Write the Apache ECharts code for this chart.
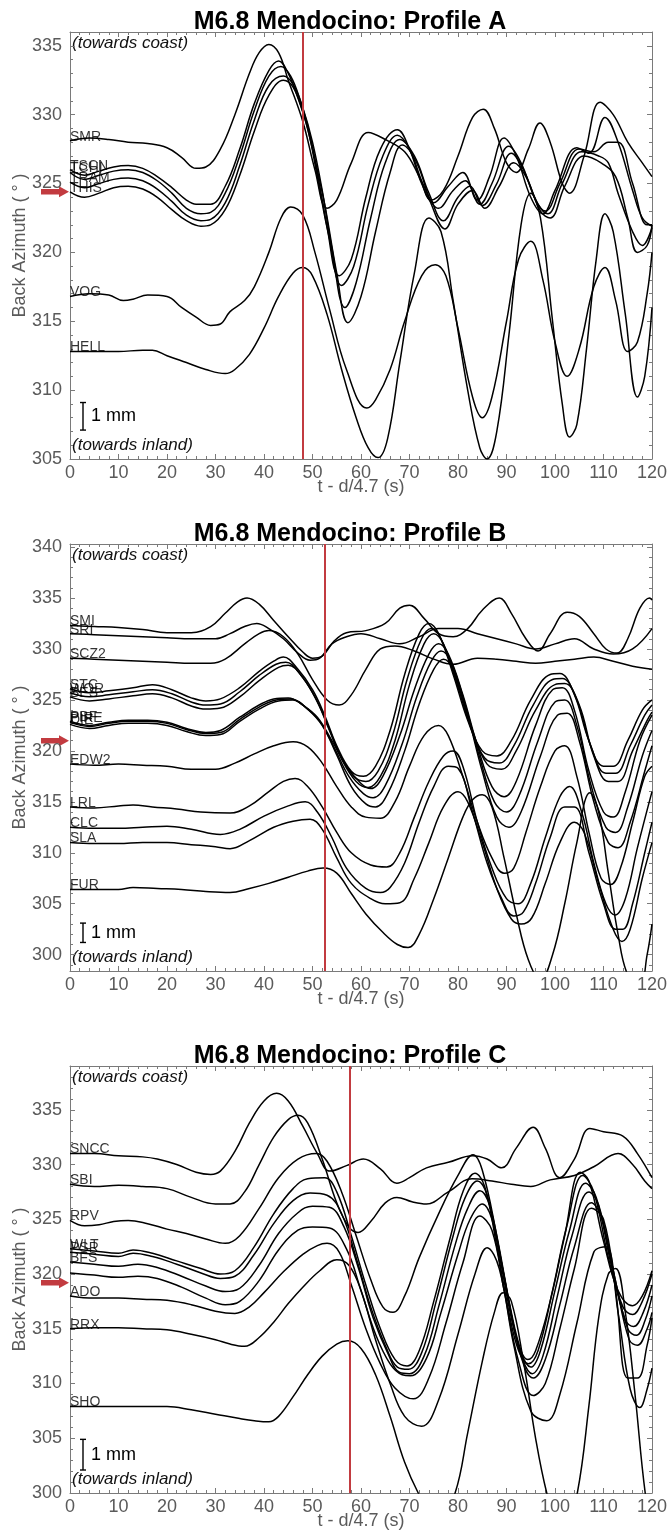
<!DOCTYPE html>
<html>
<head>
<meta charset="utf-8">
<script src="https://cdn.jsdelivr.net/npm/echarts@6/dist/echarts.min.js"></script>
<style>
  html, body { margin: 0; padding: 0; background: #fff; }
  #chart { width: 671px; height: 1539px; }
</style>
</head>
<body>
<div id="chart"></div>
<script>
// ---- Profile A : [t, back azimuth] ----
const smrA = [[0,328.1],[4,328.3],[8,328.2],[12,328.0],[16,327.9],[20,327.6],[23,326.9],[26,326.1],[28,326.2],[31,327.5],[34,330],[37,333],[39,334.5],[41,335.1],[43,334.5],[45,332.5],[48,329.5],[50.5,326],[53,323.2],[55,323.8],[58,326.5],[61.5,328.7],[65,328.2],[69,327.3],[72,325.5],[74.5,323.8],[77,324.5],[80,327],[83,329.8],[85.2,330.4],[87.5,329],[90,326.5],[92,325.8],[94.5,327.5],[96.9,329.4],[99,328],[101.5,325],[103,324.3],[106,327],[109.3,330.9],[112,330],[115,328],[118,326.5],[120,325.5]];
const tscnA = [[0,326.0],[3,325.6],[6,325.9],[9,326.2],[12,326.3],[15,326.1],[18,325.5],[21,324.7],[24,323.8],[26,323.5],[29,323.5],[32,324.8],[35,327.5],[38,330.8],[41,333.2],[43,333.9],[45,333],[47,331.2],[49,329],[51,325.5],[53,321.8],[55.5,318.3],[58,319.5],[61,324],[64,327.5],[67.5,328.9],[70,327.5],[72.5,325],[75,323.6],[78,324.8],[81,325.8],[84,323.8],[86.5,325.5],[89.5,328.3],[92,327],[95,324],[97.5,322.8],[100,324.5],[104.5,327.6],[107,327.2],[110.3,329.8],[113,328],[116,324.5],[118,322.5],[120,321.9]];
const tchiA = [[0,325.8],[3,325.3],[6,325.6],[9,325.9],[12,326.0],[15,325.8],[18,325.2],[21,324.3],[24,323.2],[27,322.8],[29,322.9],[32,324.3],[35,327],[38,330.3],[41,332.8],[43.5,333.5],[45.5,332.8],[47.5,331],[49.5,328.5],[51.5,324.8],[53.5,321],[56,317.6],[58.5,319],[61.5,323.5],[64.5,327],[67.5,328.5],[70,327.5],[73,324.8],[76,323.2],[79,324.5],[81.5,325.2],[84.5,323.5],[87,325],[90.5,327.7],[93,326.5],[96,323.8],[98,323],[101,325],[105,327.5],[108,327.3],[111,328.0],[113,328],[116,325],[119,322],[120,322]];
const tramA = [[0,325.1],[3,324.7],[6,325.0],[9,325.3],[12,325.4],[15,325.2],[18,324.6],[21,323.7],[24,322.7],[27,322.3],[29,322.4],[32,323.6],[35,326.3],[38,329.6],[41,332.1],[44,332.8],[46,332.2],[48,330.5],[50,328],[52,324.5],[54,320.3],[56.7,316.0],[59,317.8],[62,322.5],[65,326.5],[68,328.2],[71,327],[74,324.3],[77,322.3],[80,324],[82.5,324.8],[85,323.4],[88,325],[91,327.2],[93.5,326],[96.5,323.5],[98.5,322.8],[101.5,325],[105.5,327.3],[109,327],[111,326.5],[113,324.3],[116,321.5],[118,320.5],[120,321.8]];
const thisA = [[0,324.4],[3,324.0],[6,324.3],[9,324.7],[12,324.8],[15,324.6],[18,324.0],[21,323.1],[24,322.3],[27,321.9],[29,322.0],[32,323.1],[35,325.6],[38,328.8],[41,331.4],[44,332.5],[46,332],[48,330.2],[50,327.5],[52.5,323.5],[55,318.5],[57.3,314.9],[60,316.8],[63,321.5],[66,325.8],[68.5,327.8],[71.5,326.5],[74.5,323.5],[77.3,321.7],[80,323.5],[83,324.5],[85.5,323.2],[88.5,324.8],[91.5,326.5],[94,325.5],[97,323],[99,322.5],[102,324.8],[106,327],[109.5,326.5],[112.5,325.5],[115,322.5],[117,320],[119,320.5],[120,322]];
const vogA = [[0,316.8],[4,317.0],[8,316.9],[11,316.5],[13,316.6],[16,316.9],[20,316.8],[23,316.0],[26,315.3],[29,314.7],[31,314.8],[33,315.7],[36,316.5],[38,317.5],[41,320],[43.5,322.5],[45.5,323.3],[48,322.7],[50.5,320],[53.5,315.9],[57,311.5],[61.2,308.7],[63,309.3],[66,311.5],[69,315],[72.5,318.3],[75.3,319.1],[77.5,318.3],[80,314.5],[83,309.5],[85,308],[87,309.5],[90,315],[92.5,319.5],[95,320.8],[97.5,318],[100,313.5],[102.5,311],[105,313],[108,317.5],[110.3,318.9],[112.5,316.5],[115,312.8],[117,313.5],[119,317],[120,320]];
const hellA = [[0,312.8],[5,312.8],[10,312.8],[15,312.9],[17,312.9],[20,312.5],[24,312],[28,311.5],[32,311.2],[34,311.5],[37,312.6],[40,314.5],[43,316.8],[46,318.5],[48,318.9],[50,318.3],[53,315.5],[56,311.5],[59,308],[61.5,305.8],[63.5,305.1],[65.5,306.5],[68,312],[71,318.5],[74,322.5],[76.5,321.5],[79,316.5],[82,310],[84.5,305.8],[86,305],[88,307],[90.5,314],[93,322],[95,324.3],[97,322.5],[99.5,315],[101.5,309],[103,306.6],[104.5,307.5],[106.5,313],[108.5,319.5],[110.3,322.8],[112,321.5],[114.5,315.5],[117,309.5],[118.5,311],[120,316]];

// ---- Profile B ----
const smiB = [[0,332.3],[5,332.2],[10,332.1],[15,331.9],[20,331.6],[25,331.6],[29,332.2],[32,333.5],[34.5,334.6],[36.5,335.0],[39,334.4],[42,332.8],[45,331.2],[48,329.7],[50,329.1],[52,329.3],[54.5,330.8],[57,331.6],[61,331.8],[65,332.5],[68,334.0],[70,334.3],[73,333],[76,331.5],[79,331.2],[82,332],[85,333.8],[88.5,335.0],[91,333.5],[94,331],[96.5,329.8],[99,331.5],[102.5,333.6],[105,333.2],[108,331.5],[110.5,330],[112.8,329.6],[115,331],[117.5,334],[119.5,335.0],[120,334.8]];
const sriB = [[0,331.5],[5,331.4],[10,331.3],[15,331.2],[20,331.1],[25,331.0],[30,331.0],[33,331.5],[36,332.2],[38.5,332.5],[41,332],[44,331],[47,329.6],[49.5,328.9],[51.5,329.1],[54,330.5],[57,331.2],[60,331.5],[64,331],[68,330.5],[72,331.2],[76,332],[80,332],[84,331.5],[88,331],[92,330.5],[96,330],[100,330.5],[104,331],[108,330],[112,329.5],[116,330],[120,332]];
const scz2B = [[0,329.1],[5,329.0],[10,328.9],[15,328.8],[20,328.7],[25,328.6],[29,328.6],[32,329],[36,330.5],[39,331.5],[41,331.8],[44,331.2],[47,329.5],[50,327],[53,325],[55.5,324.5],[58,325.5],[61,328],[64,330],[67,330.3],[71,329.8],[75,329],[79,328.5],[84,329.1],[88,329],[92,328.8],[96,328.6],[100,328.8],[104,329],[108,329.2],[112,328.8],[116,328.3],[120,328]];
const stcB = [[0,326.1],[4,325.7],[8,325.9],[13,326.2],[17,326.5],[21,326.0],[25,325.2],[28,324.9],[31,325.1],[35,326.2],[39,327.8],[42,328.8],[44,329.2],[47,328],[50,326],[52.5,323.5],[55,320.5],[58,318],[60.5,317.5],[63,318.5],[66,322],[69,327.5],[72,331.5],[74,332.5],[76,331.5],[79,327.5],[82,323],[85,320],[88,319.5],[91,321],[95,325],[99,327.5],[101,327.6],[104,325.5],[107,321],[110,318.5],[112,318.5],[115,321],[118,324],[120,325]];
const worB = [[0,325.7],[4,325.3],[8,325.5],[13,325.8],[17,326.0],[21,325.6],[25,324.8],[28,324.5],[31,324.6],[35,325.8],[39,327.4],[42.5,328.5],[44.5,328.7],[47.5,327.5],[50.5,325.3],[53,322.7],[55.5,319.8],[58.5,317.5],[61,317.0],[63.5,318],[66.5,321.5],[69.5,327],[72.5,331],[74.5,332],[76.5,331],[79.5,327],[82.5,322.5],[85.5,319.3],[88.5,318.8],[91.5,320.5],[95.5,324.5],[99.5,327],[101.5,327.1],[104.5,325],[107.5,320.3],[110.5,317.8],[112.5,317.8],[115.5,320.5],[118.5,323.5],[120,324.5]];
const besB = [[0,325.3],[4,324.9],[8,325.1],[13,325.4],[17,325.6],[21,325.2],[25,324.4],[28,324.1],[31,324.2],[35,325.3],[39,326.9],[43,328.2],[45,328.4],[48,327.2],[51,324.8],[53.5,322],[56,319.2],[59,317],[61.5,316.4],[64,317.5],[67,321],[70,326.5],[73,330.5],[75,331.5],[77,330.5],[80,326.5],[83,322],[86,318.7],[89,318.2],[92,320],[96,324],[100,326.5],[102,326.6],[105,324.5],[108,319.5],[111,317],[113,317],[116,320],[119,323],[120,323.8]];
const pbfB = [[0,322.9],[4,322.5],[8,322.8],[12,323.0],[16,323.0],[20,322.8],[24,322.2],[28,321.8],[31,322.0],[35,323.3],[39,324.5],[42,325.1],[45,325.2],[48,324.5],[51,323.3],[54,321],[57,318.5],[60,316.8],[62,316.3],[64.5,317.5],[68,321.5],[71,326],[74,329.5],[76,330.5],[78,329.5],[81,325.5],[84,320.5],[87,316.5],[89.5,315.5],[92,317],[96,322.5],[99.5,326],[101.5,326.2],[104,324],[107,318],[110,314],[112,313.5],[114.5,316],[117.5,321],[120,323.5]];
const pireB = [[0,322.8],[4,322.4],[8,322.7],[12,322.9],[16,322.9],[20,322.7],[24,322.1],[28,321.7],[31,321.8],[35,323.1],[39,324.3],[42.5,325.0],[45.5,325.1],[48.5,324.3],[51.5,322.9],[54.5,320.3],[57.5,317.5],[60.5,315.8],[62.5,315.4],[65,316.6],[68.5,320.7],[71.5,325.3],[74.5,328.8],[76.5,329.8],[78.5,328.8],[81.5,324.5],[84.5,319.3],[87.5,315],[90,314],[92.5,315.5],[96.5,321],[100,324.8],[102,325],[104.5,322.5],[107.5,316.5],[110.5,312.5],[112.5,312],[115,314.5],[118,319.5],[120,322]];
const dieB = [[0,322.6],[4,322.2],[8,322.5],[12,322.7],[16,322.7],[20,322.5],[24,321.9],[28,321.5],[31,321.6],[35,322.9],[39,324.1],[43,324.9],[46,325.0],[49,324.1],[52,322.5],[55,319.6],[58,316.5],[61,314.8],[63,314.5],[65.5,315.8],[69,320],[72,324.6],[75,328],[77,329],[79,328],[82,323.5],[85,318],[88,313.5],[90.5,312.5],[93,314],[97,319.5],[100.5,323.5],[102.5,323.7],[105,321],[108,315],[111,311],[113,310.5],[115.5,313],[118.5,318],[120,320.5]];
const edw2B = [[0,318.7],[5,318.6],[10,318.7],[15,318.6],[20,318.5],[25,318.2],[30,318.2],[34,318.8],[38,319.7],[42,320.5],[46,320.9],[49,320.4],[52,318.8],[55,316.5],[58,314.5],[61,313.5],[64,313.4],[67,315],[70,318.5],[73,321.5],[76,322.5],[78,321.5],[81,317.5],[84,313],[87,309.5],[89.5,308],[91.5,308.5],[94,312],[97,316.5],[100,320],[102,320.5],[104.5,317.5],[107,312],[109.5,307.5],[111.5,306.9],[113.5,308.5],[116,313],[118.5,317.5],[120,318.5]];
const lrlB = [[0,314.5],[5,314.4],[10,314.6],[13,314.7],[17,314.5],[22,314.3],[27,314.0],[33,313.9],[37,314.6],[41,316],[44,317],[46.4,317.3],[49,316.5],[52,314.5],[55,312],[58,310],[62,308.8],[65.3,308.6],[68,310],[71,313.5],[74,317],[77,319.5],[79,320],[81,318.5],[84,313],[87,308.5],[90,305.5],[92.4,305],[95,307],[98,311.5],[101,315.5],[103,316.5],[105.5,314],[108,309],[110.5,305],[112.4,303.9],[114.5,305.5],[117,310.5],[120,316]];
const clcB = [[0,312.5],[5,312.4],[10,312.4],[15,312.5],[20,312.6],[25,312.3],[31,311.8],[35,312.3],[40,313.6],[45,314.6],[48.5,315.0],[51,314],[54,311.5],[57,308.5],[61,306.5],[64,306.1],[66,306.6],[69,309],[72,313],[75,316.5],[78,318.5],[80,318.3],[83,314],[86,309],[89,305.5],[91.5,303.8],[93.5,304.2],[96,307],[99,311.5],[102,314.5],[104,314.5],[107,310],[110,305],[112.5,302.5],[114,302.5],[116,305],[118.5,310],[120,313]];
const slaB = [[0,311.0],[5,310.9],[10,310.9],[15,311.0],[20,311.0],[25,310.8],[30,310.6],[33,310.4],[37,311.2],[42,312.5],[46,313.1],[49.5,313.3],[52,312.3],[55,309.5],[58,307],[62,305.5],[65,305],[68,305.1],[71,307.5],[74,311],[77,314.5],[80,316],[82,315],[85,311],[88,306.5],[91,303.5],[93,303],[95.2,303.6],[98,307],[101,311],[104,313],[106,312],[109,307],[112,302.5],[113.8,301.3],[115.5,302.5],[118,307.5],[120,311]];
const furB = [[0,306.4],[5,306.4],[10,306.4],[13,306.6],[18,306.5],[23,306.4],[28,306.2],[33,306.1],[37,306.5],[41,307],[45,307.6],[49,308.2],[52.2,308.5],[55,308],[58,306],[61,304],[64.5,302.2],[67.5,301],[69.7,300.7],[72,302],[75,305.5],[78,309.5],[81,313.5],[83,315.2],[85,315.7],[87,314.5],[89.5,309.5],[92,304],[94.5,299.5],[97,297.5],[99.5,300],[102,305],[104.5,311],[107.2,315.9],[109,314],[111,308],[113,302],[115,298],[117.5,297],[119,300],[120,303]];

// ---- Profile C ----
const snccC = [[0,331.0],[5,331.0],[10,330.8],[15,330.7],[18,330.5],[22,330.0],[26,329.3],[29,329.1],[31,329.4],[34,331.2],[37,333.8],[40,335.8],[42.6,336.5],[45,335.8],[48,333.5],[51,331],[53.6,329.4],[57,329.9],[60.5,330.5],[64,329.6],[67.4,328.3],[70,328.8],[73.5,329.7],[78,330.2],[83,330.8],[86,330.5],[89,329.7],[92,331.5],[95.5,333.4],[98,331.5],[101,328.8],[104,330.5],[107.2,333.3],[110,333],[114,332.6],[117,331],[120,328.8]];
const sbiC = [[0,328.2],[5,328.0],[10,328.1],[15,328.0],[20,327.8],[25,327.0],[30,326.4],[33,326.4],[36,327.5],[39,330],[42,332.5],[45,334.1],[47,334.5],[49,333.8],[52,330.5],[55,326.5],[57.5,324.3],[59.4,323.8],[62,324.8],[65,326.5],[67.4,327],[70.5,326.6],[73.5,326.4],[78,327.5],[82.9,328.7],[87,328.5],[91,328.2],[95,328],[99,328.6],[104,329],[108,329.8],[113,331],[116,330],[118.5,328.5],[120,327.8]];
const rpvC = [[0,324.9],[3,324.4],[6,324.5],[9,324.8],[12,324.9],[16,324.6],[20,324.1],[24,323.7],[28,323.2],[32,322.8],[35,323.5],[39,326],[43,328.8],[47,330.5],[50.8,331.0],[53,330.3],[56,327.5],[59,323.5],[62,319.5],[64.5,317],[66.6,316.5],[69,318],[72,321.5],[76,325.5],[80,329],[83.1,330.9],[85,329.5],[88,323.5],[91,316.5],[93,313],[94.4,312.2],[96,313],[99,317.5],[102,323.5],[105.2,329.3],[107,328.5],[110,323],[113,318.5],[116,317.1],[118,318],[120,320.3]];
const wltC = [[0,322.3],[5,322.1],[10,321.9],[13,322.2],[17,321.9],[22,321.2],[27,320.5],[31,320.0],[34,320.3],[38,322.5],[42,325.5],[46,327.8],[49,328.7],[52.5,328.8],[55,327.5],[58,323.5],[61,319],[64,315],[67,312.2],[69.5,311.6],[72,313],[75,317.5],[78.5,323.5],[81,327.5],[83.5,329.2],[85.5,328],[88,322.5],[90.5,316.5],[92.5,313],[94.5,311.8],[96.5,313],[99.5,318.5],[102.5,324.5],[105.7,329],[108,327.5],[111,321.5],[114,317],[116,316.3],[118,317.5],[120,320]];
const psrC = [[0,322.0],[5,321.8],[10,321.6],[13,321.9],[17,321.6],[22,320.9],[27,320.1],[31,319.6],[34,319.8],[38,321.8],[42,324.6],[46,326.7],[49.5,327.4],[53,327.2],[56,325.5],[59,321.5],[62,317],[65,313.5],[67.5,311.5],[69.8,311.3],[72.5,312.8],[75.5,317.5],[79,323.5],[81.5,327],[84,328.5],[86,327.2],[88.5,321.8],[91,316],[93,312.8],[95,311.5],[97,313],[100,318.5],[103,324],[106.3,328.3],[108.5,327],[111.5,321],[114.5,315.8],[116.2,315.2],[118.2,316.5],[120,319]];
const bfsC = [[0,321.1],[5,320.9],[10,320.7],[14,320.9],[18,320.6],[23,319.8],[28,318.9],[32,318.4],[35,318.7],[39,320.8],[43,323.7],[47,325.6],[50,326.2],[53.5,326.1],[56.5,324.3],[59.5,320.5],[62.5,316],[65.5,312.8],[68,311],[70,310.9],[73,312.5],[76,317],[79.5,322.8],[82,326],[84.5,327.6],[86.5,326.3],[89,321],[91.5,315.2],[93.5,312],[95.3,310.9],[97.5,312.5],[100.5,318],[103.5,323.5],[107,327.5],[109,326.3],[112,320.3],[115,315],[116.8,314.4],[118.6,315.8],[120,318]];
const x5C = [[0,320.1],[5,319.9],[10,319.7],[14,319.8],[18,319.6],[23,318.8],[28,317.8],[32,317.2],[35,317.5],[39,319.4],[43,322.2],[47,324.0],[50,324.3],[53.5,324.2],[57,322.3],[60,318.5],[63,314.5],[66,311.8],[68.5,310.8],[70.2,310.7],[73.5,312.3],[76.5,316.5],[80,321.8],[82.5,325],[85,326.4],[87,325],[89.5,319.8],[92,314.2],[94,311.2],[95.5,310.5],[98,312.2],[101,317.2],[104,322.5],[107.5,326.5],[109.5,325.3],[112.5,319.3],[115.3,314],[117,313.5],[119,315],[120,316.5]];
const adoC = [[0,318.0],[5,317.8],[10,317.8],[15,317.7],[20,317.6],[25,317.2],[30,316.6],[34,316.4],[37,317],[40,318.3],[44,320.2],[48,321.8],[51,322.6],[53,322.8],[55.5,322],[58,319],[61,315],[64,311.8],[67,309.6],[70.8,308.6],[74,310.5],[77.5,315.5],[81,321],[84.5,325.3],[87,324],[89.5,318.5],[92.5,312],[95.5,308.9],[98,310],[101,315],[104,320.5],[107.5,326],[110,325],[112.5,318.5],[115,310.5],[117,310.5],[119,313.5],[120,316]];
const rrxC = [[0,315.0],[5,315.1],[10,315.1],[15,315.0],[20,314.9],[25,314.5],[30,314.0],[33,313.6],[36,313.4],[39,314.2],[42,315.6],[45,317.3],[48,318.8],[51.5,320.3],[55,321.3],[57.5,320.8],[60,318.5],[63,314],[66,310],[69,307],[72.5,306.1],[76,308.5],[80,314.5],[83.5,320],[86,322.4],[88.5,320.5],[91.5,313.5],[95,307.5],[98.3,306.6],[101,309],[104.5,315.5],[108,322],[110.5,322.5],[113,316.5],[115.5,309.5],[117.5,307.8],[119,309.5],[120,311.4]];
const shoC = [[0,307.9],[5,307.9],[10,307.9],[15,307.9],[20,307.9],[25,307.6],[30,307.2],[35,306.8],[38,306.6],[41,306.5],[43,307],[46,308.8],[49,310.8],[52,312.5],[55,313.6],[57.3,313.9],[60,313.2],[63,310.8],[66,307],[69,302.8],[71.8,300],[74,298.5],[76.5,298],[79.4,300],[82,305.5],[85,312],[87.5,316.5],[89.3,318.3],[91,317.5],[93.5,312],[96,305],[98.3,300],[100.5,297],[102.5,297.5],[104.6,300],[107,308],[109,316],[111,320],[112.5,320.5],[114.5,316.5],[116.5,309],[118.6,300],[120,297]];

const panels = [
  {
    title: 'M6.8 Mendocino: Profile A', top: 32, yMin: 305, yMax: 336, redT: 48, arrowV: 324.4,
    barV: [307.1, 309.1],
    traces: [['SMR', smrA], ['TSCN', tscnA], ['TCHI', tchiA], ['TRAM', tramA], ['THIS', thisA], ['VOG', vogA], ['HELL', hellA]]
  },
  {
    title: 'M6.8 Mendocino: Profile B', top: 544, yMin: 298.4, yMax: 340.3, redT: 52.5, arrowV: 321.0,
    barV: [301.2, 303.1],
    traces: [['SMI', smiB], ['SRI', sriB], ['SCZ2', scz2B], ['STC', stcB], ['WOR', worB], ['BES', besB], ['PBF', pbfB], ['PIRE', pireB], ['DIE', dieB], ['EDW2', edw2B], ['LRL', lrlB], ['CLC', clcB], ['SLA', slaB], ['FUR', furB]]
  },
  {
    title: 'M6.8 Mendocino: Profile C', top: 1066, yMin: 300, yMax: 339, redT: 57.6, arrowV: 319.2,
    barV: [302.1, 304.9],
    traces: [['SNCC', snccC], ['SBI', sbiC], ['RPV', rpvC], ['WLT', wltC], ['PSR', psrC], ['BFS', bfsC], ['', x5C], ['ADO', adoC], ['RRX', rrxC], ['SHO', shoC]]
  }
];

const FONT = '"Liberation Sans", Helvetica, Arial, sans-serif';
const AX = '#7a7a7a';
const LBL = '#5a5a5a';
const RED = '#c23b40';
const GW = 582, GH = 427, GL = 70;

const option = {
  animation: false,
  backgroundColor: '#fff',
  textStyle: { fontFamily: FONT },
  title: [], grid: [], xAxis: [], yAxis: [], series: []
};

function range(a, b, s) { const r = []; for (let v = a; v <= b + 1e-9; v += s) r.push(+v.toFixed(3)); return r; }

panels.forEach((p, i) => {
  option.title.push({
    text: p.title, left: 345, top: p.top - 27, textAlign: 'center',
    textStyle: { fontFamily: FONT, fontSize: 25, fontWeight: 'bold', color: '#000' }
  });
  option.grid.push({ left: GL, top: p.top, width: GW, height: GH, show: false, containLabel: false, outerBoundsMode: 'none' });
  const xBase = {
    type: 'value', gridIndex: i, min: 0, max: 120, interval: 10,
    splitLine: { show: false },
    axisLine: { show: true, lineStyle: { color: AX, width: 1 } },
    axisTick: { show: true, inside: true, length: 5, lineStyle: { color: AX } },
    minorTick: { show: true, splitNumber: 5, length: 3, lineStyle: { color: AX } }
  };
  option.xAxis.push(Object.assign({}, xBase, {
    position: 'bottom',
    axisLabel: { color: LBL, fontSize: 18, margin: 5, fontFamily: FONT },
    name: 't - d/4.7 (s)', nameLocation: 'middle', nameGap: 19, nameMoveOverlap: false,
    nameTextStyle: { color: LBL, fontSize: 18, fontFamily: FONT }
  }));
  option.xAxis.push(Object.assign({}, xBase, { position: 'top', axisLabel: { show: false } }));

  const majors = range(Math.ceil(p.yMin / 5) * 5, p.yMax, 5);
  const minors = range(Math.ceil(p.yMin), p.yMax, 1);
  const yBase = {
    type: 'value', gridIndex: i, min: p.yMin, max: p.yMax,
    splitLine: { show: false },
    axisLine: { show: true, lineStyle: { color: AX, width: 1 } }
  };
  ['left', 'right'].forEach(pos => {
    option.yAxis.push(Object.assign({}, yBase, {
      position: pos,
      axisTick: { show: true, inside: true, length: 5, customValues: majors, lineStyle: { color: AX } },
      axisLabel: pos === 'left'
        ? { show: true, customValues: majors, color: LBL, fontSize: 18, margin: 8, fontFamily: FONT }
        : { show: false },
      name: pos === 'left' ? 'Back Azimuth ( ° )' : '',
      nameLocation: 'middle', nameGap: 41, nameMoveOverlap: false,
      nameTextStyle: { color: LBL, fontSize: 18, fontFamily: FONT }
    }));
    option.yAxis.push(Object.assign({}, yBase, {
      position: pos,
      axisLine: { show: false },
      axisTick: { show: true, inside: true, length: 3, customValues: minors, lineStyle: { color: AX } },
      axisLabel: { show: false }
    }));
  });

  p.traces.forEach(([name, data], k) => {
    const s = {
      type: 'line', name: name || ('trace' + k), xAxisIndex: 2 * i, yAxisIndex: 4 * i,
      data: data, showSymbol: false, symbol: 'none', smooth: 0.4,
      clip: true, silent: true,
      lineStyle: { color: '#000', width: 1.5 }
    };
    if (k === 0) {
      s.markLine = {
        silent: true, symbol: 'none', label: { show: false },
        lineStyle: { color: RED, width: 2, type: 'solid' },
        data: [{ xAxis: p.redT }]
      };
    }
    option.series.push(s);
  });

  option.series.push({
    type: 'scatter', xAxisIndex: 2 * i, yAxisIndex: 4 * i, symbolSize: 0, silent: true,
    data: p.traces.filter(t => t[0]).map(([name, data]) => ({ name: name, value: data[0] })),
    label: {
      show: true, formatter: '{b}', position: [0, 0], align: 'left', verticalAlign: 'bottom',
      offset: [0, 3], color: '#000', fontSize: 14, fontFamily: FONT
    }
  });
});

const chart = echarts.init(document.getElementById('chart'), null, { renderer: 'canvas' });
chart.setOption(option);

// decorations: direction notes, 1 mm scale bar, red arrow
const graphic = [];
panels.forEach((p, i) => {
  const finder = { xAxisIndex: 2 * i, yAxisIndex: 4 * i };
  const bottom = p.top + GH;
  const noteStyle = { fontFamily: FONT, fontSize: 17, fontStyle: 'italic', fill: '#111' };
  graphic.push({ type: 'text', left: 72, top: p.top + 3, style: Object.assign({ text: '(towards coast)' }, noteStyle), silent: true });
  graphic.push({ type: 'text', left: 72, top: bottom - 22, style: Object.assign({ text: '(towards inland)' }, noteStyle), silent: true });

  const y0 = chart.convertToPixel(finder, [0, p.barV[0]])[1];
  const y1 = chart.convertToPixel(finder, [0, p.barV[1]])[1];
  const bx = 83;
  graphic.push({ type: 'polyline', silent: true, shape: { points: [[bx - 3, y1], [bx + 3, y1]] }, style: { stroke: '#000', lineWidth: 1.4 } });
  graphic.push({ type: 'polyline', silent: true, shape: { points: [[bx, y1], [bx, y0]] }, style: { stroke: '#000', lineWidth: 1.4 } });
  graphic.push({ type: 'polyline', silent: true, shape: { points: [[bx - 3, y0], [bx + 3, y0]] }, style: { stroke: '#000', lineWidth: 1.4 } });
  graphic.push({ type: 'text', silent: true, x: 91, y: (y0 + y1) / 2, style: { text: '1 mm', fontFamily: FONT, fontSize: 18, fill: '#000', verticalAlign: 'middle' } });

  const ya = chart.convertToPixel(finder, [0, p.arrowV])[1];
  graphic.push({
    type: 'polygon', silent: true,
    shape: { points: [[41, ya - 2.8], [59, ya - 2.8], [59, ya - 5.5], [69, ya], [59, ya + 5.5], [59, ya + 2.8], [41, ya + 2.8]] },
    style: { fill: RED }
  });
});
chart.setOption({ graphic: graphic });
</script>
</body>
</html>
